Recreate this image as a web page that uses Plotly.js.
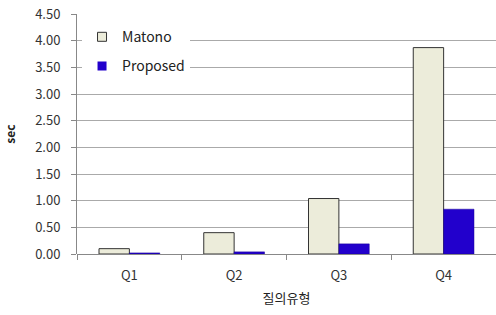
<!DOCTYPE html>
<html><head><meta charset="utf-8">
<script src="https://cdn.plot.ly/plotly-3.0.1.min.js"></script>
<style>html,body{margin:0;padding:0;background:#fff}#chart{width:496px;height:315px}</style>
</head><body><div id="chart"></div>
<script>
var categories = ["Q1", "Q2", "Q3", "Q4"];
var matono = [0.10, 0.40, 1.04, 3.87];
var proposed = [0.02, 0.04, 0.19, 0.84];
var yTicks = [0, 0.5, 1, 1.5, 2, 2.5, 3, 3.5, 4, 4.5];
var yTickText = yTicks.map(function(v){return v.toFixed(2);});

var font = "'Noto Sans CJK KR', 'Noto Sans', sans-serif";
var cM = "#ECECDA", cP = "#2200CC";
var data = [
  {type:"bar", name:"Matono", x:categories, y:matono, showlegend:false,
   marker:{color:cM, line:{color:"#333333", width:1}}},
  {type:"bar", name:"Proposed", x:categories, y:proposed, showlegend:false,
   marker:{color:cP, line:{color:"#1a0099", width:0.5}}},
  {type:"scatter", mode:"markers", name:"Matono", x:[null], y:[null], legendgroup:"a",
   marker:{symbol:"square", size:9, color:cM, line:{color:"#333", width:1}}},
  {type:"scatter", mode:"markers", name:"Proposed", x:[null], y:[null], legendgroup:"b",
   marker:{symbol:"square", size:9, color:cP, line:{color:cP, width:0}}}
];
var layout = {
  width:496, height:315,
  margin:{l:77, r:0, t:14, b:61},
  paper_bgcolor:"#fff", plot_bgcolor:"#fff",
  font:{family:font, size:12, color:"#333"},
  barmode:"group", bargap:0.42, bargroupgap:0,
  showlegend:true,
  legend:{x:0.012, y:0.97, xanchor:"left", yanchor:"top", bgcolor:"#fff",
          font:{size:14, color:"#222"}, tracegroupgap:8, traceorder:"grouped",
          itemwidth:30},
  xaxis:{type:"category", tickson:"boundaries", ticks:"outside", ticklen:5, tickcolor:"#888",
         showline:false, showgrid:false, zeroline:false, tickfont:{size:13, color:"#333"},
         ticklabelstandoff:12,
         title:{text:"질의유형", font:{size:13, color:"#222"}, standoff:10}},
  yaxis:{range:[0,4.5], tickvals:yTicks, ticktext:yTickText, ticks:"outside", ticklen:5,
         tickcolor:"#888", showline:true, linecolor:"#888", linewidth:1,
         gridcolor:"#aaa", gridwidth:1, zeroline:true, zerolinecolor:"#888", zerolinewidth:1,
         tickfont:{size:13, color:"#333"}, ticklabelstandoff:8,
         title:{text:"<b>sec</b>", font:{size:12, color:"#222"}, standoff:16}}
};
Plotly.newPlot("chart", data, layout, {staticPlot:true, displayModeBar:false});
</script></body></html>
